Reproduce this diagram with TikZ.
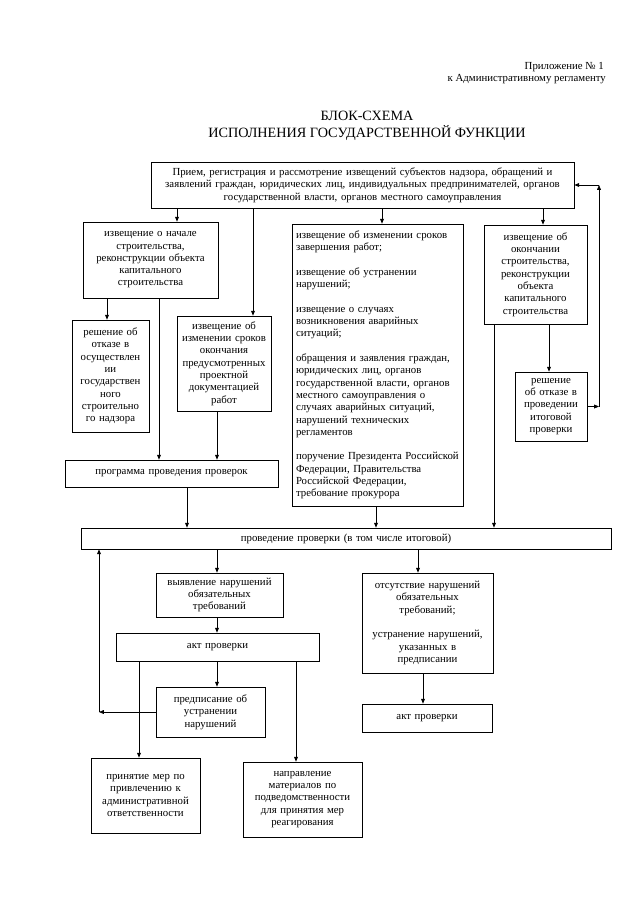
\documentclass[tikz,border=0pt]{standalone}
\usepackage{fontspec}
\setmainfont{Liberation Serif}
\usetikzlibrary{arrows.meta}
\newcommand\fs{\fontsize{10.8}{12.3}\selectfont}
\tikzset{
  bx/.style={draw, line width=0.7pt, align=center, inner sep=1pt, font=\fs},
  arr/.style={line width=0.7pt, -{Triangle[length=4.8pt,width=3.8pt]}},
  lbl/.style={font=\fs, inner sep=0}
}
\newcommand\mkbox[7][]{%
  \pgfmathsetmacro\bw{#5-#3}\pgfmathsetmacro\bh{#6-#4}\pgfmathsetmacro\tw{\bw-4}%
  \node[bx,minimum width=\bw pt,minimum height=\bh pt,text width=\tw pt,#1] (#2) at ({(#3+#5)/2},{(#4+#6)/2}) {#7};}
\begin{document}
\begin{tikzpicture}[x=1pt,y=-1pt]
\useasboundingbox (0,0) rectangle (640,905);
% header
\node[lbl, anchor=base east] (hdr1) at (604,69) {Приложение № 1};
\node[lbl, anchor=base east] (hdr2) at (606,81) {к Административному регламенту};
\node[font=\fontsize{14.2}{17}\selectfont, inner sep=0, anchor=base] (ttl1) at (367,120) {БЛОК-СХЕМА};
\node[font=\fontsize{14.2}{17}\selectfont, inner sep=0, anchor=base] (ttl2) at (367,137) {ИСПОЛНЕНИЯ ГОСУДАРСТВЕННОЙ ФУНКЦИИ};
% boxes
\mkbox{T}{151}{162}{574}{208}{Прием, регистрация и рассмотрение извещений субъектов надзора, обращений и\\заявлений граждан, юридических лиц, индивидуальных предпринимателей, органов\\государственной власти, органов местного самоуправления}
\mkbox{A}{83}{222}{218}{298}{извещение о начале\\строительства,\\реконструкции объекта\\капитального\\строительства}
\mkbox{B}{72}{320}{149}{432}{решение об\\отказе в\\осуществлен\\ии\\государствен\\ного\\строительно\\го надзора}
\mkbox{C}{177}{316}{271}{411}{извещение об\\изменении сроков\\окончания\\предусмотренных\\проектной\\документацией\\работ}
\mkbox[align=left, inner xsep=4pt, text width=163pt]{M}{292}{224}{463}{506}{извещение об изменении сроков\\завершения работ;\\\mbox{}\\извещение об устранении\\нарушений;\\\mbox{}\\извещение о случаях\\возникновения аварийных\\ситуаций;\\\mbox{}\\обращения и заявления граждан,\\юридических лиц, органов\\государственной власти, органов\\местного самоуправления о\\случаях аварийных ситуаций,\\нарушений технических\\регламентов\\\mbox{}\\поручение Президента Российской\\Федерации, Правительства\\Российской Федерации,\\требование прокурора}
\mkbox{R1}{484}{225}{587}{324}{извещение об\\окончании\\строительства,\\реконструкции\\объекта\\капитального\\строительства}
\mkbox[inner sep=0pt]{R2}{515}{372}{587}{441}{решение\\об отказе в\\проведении\\итоговой\\проверки}
\mkbox{P}{65}{460}{278}{487}{программа проведения проверок}
\mkbox{V}{81}{528}{611}{549}{проведение проверки (в том числе итоговой)}
\mkbox{V1}{156}{573}{283}{617}{выявление нарушений\\обязательных\\требований}
\mkbox{K1}{116}{633}{319}{661}{акт проверки}
\mkbox{Pr}{156}{687}{265}{737}{предписание об\\устранении\\нарушений}
\mkbox{N1}{91}{758}{200}{833}{принятие мер по\\привлечению к\\административной\\ответственности}
\mkbox{N2}{243}{762}{362}{837}{направление\\материалов по\\подведомственности\\для принятия мер\\реагирования}
\mkbox{O}{362}{573}{493}{673}{отсутствие нарушений\\обязательных\\требований;\\\mbox{}\\устранение нарушений,\\указанных в\\предписании}
\mkbox{K2}{362}{704}{492}{732}{акт проверки}
% x positions
\foreach \xx in {99,107,139,159,177,187,217,253,296,376,382,418,423,494,543,549,599}
  \coordinate (c\xx) at (\xx,0);
% connectors
\draw[arr] (T.south -| c177) -- (A.north -| c177);
\draw[arr] (T.south -| c253) -- (C.north -| c253);
\draw[arr] (T.south -| c382) -- (M.north -| c382);
\draw[arr] (T.south -| c543) -- (R1.north -| c543);
\draw[arr] (A.south -| c107) -- (B.north -| c107);
\draw[arr] (A.south -| c159) -- (P.north -| c159);
\draw[arr] (C.south -| c217) -- (P.north -| c217);
\draw[arr] (P.south -| c187) -- (V.north -| c187);
\draw[arr] (M.south -| c376) -- (V.north -| c376);
\draw[arr] (R1.south -| c549) -- (R2.north -| c549);
\draw[arr] (R1.south -| c494) -- (V.north -| c494);
\draw[arr] (R2.east) -- (R2.east -| c599);
\draw[arr] (R2.east -| c599) -- (T.east -| c599);
\draw[arr] (T.east -| c599) -- (T.east);
\draw[arr] (V.south -| c217) -- (V1.north -| c217);
\draw[arr] (V.south -| c418) -- (O.north -| c418);
\draw[arr] (V1.south -| c217) -- (K1.north -| c217);
\draw[arr] (K1.south -| c217) -- (Pr.north -| c217);
\draw[arr] (K1.south -| c139) -- (N1.north -| c139);
\draw[arr] (K1.south -| c296) -- (N2.north -| c296);
\draw[arr] (O.south -| c423) -- (K2.north -| c423);
\draw[arr] (Pr.west) -- (Pr.west -| c99);
\draw[arr] (Pr.west -| c99) -- (V.south -| c99);
\end{tikzpicture}
\end{document}
